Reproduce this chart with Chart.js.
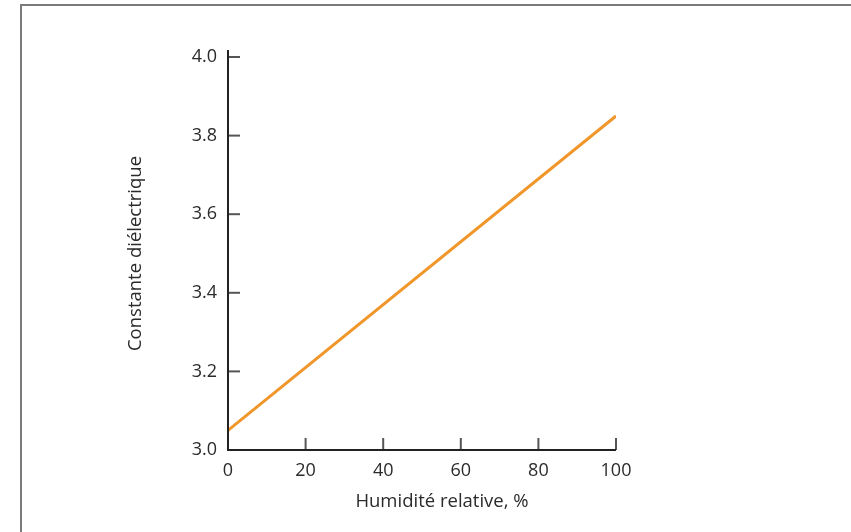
<!DOCTYPE html>
<html>
<head>
<meta charset="utf-8">
<script src="https://cdn.jsdelivr.net/npm/chart.js@4/dist/chart.umd.min.js"></script>
<style>
  html, body { margin: 0; padding: 0; background: #fff; }
  #wrap { position: relative; width: 851px; height: 532px; }
  #frame { position: absolute; left: 20px; top: 4px; right: -10px; bottom: -10px;
           border-top: 2px solid #7a7a7a; border-left: 2px solid #7a7a7a; }
  canvas { position: absolute; left: 0; top: 0; }
</style>
</head>
<body>
<div id="wrap">
  <div id="frame"></div>
  <canvas id="myChart" width="851" height="532"></canvas>
</div>
<script>
// relative humidity (%) vs dielectric constant
const humidity = [0, 100];
const dielectric = [3.05, 3.85];
const xTickValues = [0, 20, 40, 60, 80, 100];
const yTickValues = [3.0, 3.2, 3.4, 3.6, 3.8, 4.0];
const xTitle = 'Humidité relative, %';
const yTitle = 'Constante diélectrique';

const textColor = '#2b2b2b';
const fontFamily = '"Open Sans", sans-serif';

// axes lines, inward ticks and x title
const axesPlugin = {
  id: 'axesPlugin',
  afterDraw(chart) {
    const ctx = chart.ctx;
    const xs = chart.scales.x;
    const ys = chart.scales.y;
    const area = chart.chartArea;
    ctx.save();
    ctx.lineCap = 'butt';

    // ticks
    ctx.strokeStyle = '#555555';
    ctx.lineWidth = 2;
    yTickValues.forEach(function (v) {
      const y = ys.getPixelForValue(v);
      ctx.beginPath();
      ctx.moveTo(area.left, y);
      ctx.lineTo(area.left + 12, y);
      ctx.stroke();
    });
    xTickValues.forEach(function (v) {
      if (v === 0) return;
      const x = xs.getPixelForValue(v);
      ctx.beginPath();
      ctx.moveTo(x, area.bottom);
      ctx.lineTo(x, area.bottom - 12);
      ctx.stroke();
    });

    // axis lines
    ctx.strokeStyle = '#222222';
    ctx.beginPath();
    ctx.moveTo(area.left, area.top - 7);
    ctx.lineTo(area.left, area.bottom);
    ctx.lineTo(xs.getPixelForValue(100), area.bottom);
    ctx.stroke();

    // x title
    ctx.fillStyle = textColor;
    ctx.font = '18.5px ' + fontFamily;
    ctx.textAlign = 'center';
    ctx.textBaseline = 'middle';
    ctx.fillText(xTitle, (area.left + area.right) / 2 + 20, 502);
    ctx.restore();
  }
};

const ctx = document.getElementById('myChart').getContext('2d');
const myChart = new Chart(ctx, {
  type: 'scatter',
  data: {
    datasets: [{
      data: humidity.map(function (h, i) { return { x: h, y: dielectric[i] }; }),
      showLine: true,
      borderColor: '#f0962a',
      borderWidth: 3,
      pointRadius: 0,
      fill: false
    }]
  },
  options: {
    responsive: false,
    animation: false,
    layout: { padding: { top: 57, right: 235, bottom: 0, left: 0 } },
    plugins: {
      legend: { display: false },
      tooltip: { enabled: false }
    },
    scales: {
      x: {
        type: 'linear',
        min: 0,
        max: 100,
        afterBuildTicks: function (scale) {
          scale.ticks = xTickValues.map(function (v) { return { value: v }; });
        },
        afterFit: function (scale) { scale.height = 82; },
        grid: { display: false },
        border: { display: false },
        ticks: {
          color: textColor,
          padding: 2,
          font: { family: fontFamily, size: 18 },
          maxRotation: 0
        }
      },
      y: {
        type: 'linear',
        min: 3.0,
        max: 4.0,
        afterBuildTicks: function (scale) {
          scale.ticks = yTickValues.map(function (v) { return { value: v }; });
        },
        afterFit: function (scale) { scale.width = 228; },
        grid: { display: false },
        border: { display: false },
        title: {
          display: true,
          text: yTitle,
          color: textColor,
          font: { family: fontFamily, size: 18.5 },
          padding: { top: 125, bottom: 0 }
        },
        ticks: {
          color: textColor,
          padding: 3,
          font: { family: fontFamily, size: 18 },
          callback: function (v) { return Number(v).toFixed(1); }
        }
      }
    }
  },
  plugins: [axesPlugin]
});
</script>
</body>
</html>
